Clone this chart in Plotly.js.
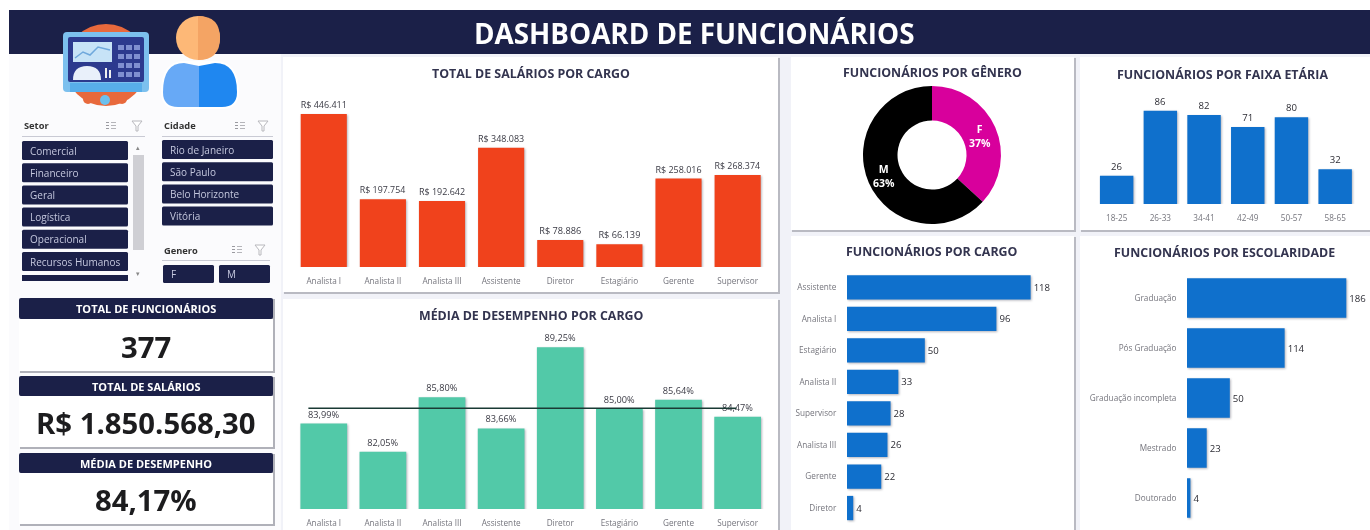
<!DOCTYPE html>
<html lang="pt-BR"><head><meta charset="utf-8">
<script src="https://cdn.plot.ly/plotly-3.0.1.min.js"></script>
<style>
html,body{margin:0;padding:0;background:#fff;overflow:hidden}
#chart{width:1370px;height:530px;filter:blur(0.7px)}
.barlayer .point path{filter:drop-shadow(1px 1px 1px rgba(40,40,60,.35))}
</style></head><body><div id="chart"></div>
<script>
const cargos=["Analista I","Analista II","Analista III","Assistente","Diretor","Estagiário","Gerente","Supervisor"];
const salarios=[446411,197754,192642,348083,78886,66139,258016,268374];
const desempenho=[83.99,82.05,85.80,83.66,89.25,85.00,85.64,84.47];
const linhaDesempenho=85.05;
const generos=["F","M"];
const generoValores=[139,238];
const faixas=["18-25","26-33","34-41","42-49","50-57","58-65"];
const faixaValores=[26,86,82,71,80,32];
const cargosOrd=["Assistente","Analista I","Estagiário","Analista II","Supervisor","Analista III","Gerente","Diretor"];
const cargosOrdValores=[118,96,50,33,28,26,22,4];
const escolaridade=["Graduação","Pós Graduação","Graduação incompleta","Mestrado","Doutorado"];
const escolaridadeValores=[186,114,50,23,4];
const setores=["Comercial","Financeiro","Geral","Logística","Operacional","Recursos Humanos"];
const cidades=["Rio de Janeiro","São Paulo","Belo Horizonte","Vitória"];
const kpis=[["TOTAL DE FUNCIONÁRIOS","377"],["TOTAL DE SALÁRIOS","R$ 1.850.568,30"],["MÉDIA DE DESEMPENHO","84,17%"]];

const W=1370,H=530,FONT='"Open Sans",sans-serif';
const NAVY='#1b2048',ORANGE='#f0421c',GREEN='#52c9a8',BLUE='#0f70cc',TITLE='#33344f';
const px=x=>x/W,py=y=>1-y/H;
const shapes=[],ann=[];
const rect=(x0,y0,x1,y1,fill,extra)=>shapes.push(Object.assign({type:'rect',xref:'paper',yref:'paper',x0:px(x0),x1:px(x1),y0:py(y0),y1:py(y1),fillcolor:fill,line:{width:0},layer:'below'},extra||{}));
const circle=(cx,cy,r,fill)=>shapes.push({type:'circle',xref:'paper',yref:'paper',x0:px(cx-r),x1:px(cx+r),y0:py(cy+r),y1:py(cy-r),fillcolor:fill,line:{width:0},layer:'below'});
const path=(pts,fill,close=true,line)=>{
  let d=pts.map(p=>{let s=p[0];for(let i=1;i<p.length;i+=2)s+=' '+px(p[i])+','+py(p[i+1]);return s}).join(' ')+(close?' Z':'');
  shapes.push({type:'path',xref:'paper',yref:'paper',path:d,fillcolor:fill,line:line||{width:0},layer:'below'});
};
const rrect=(x0,y0,x1,y1,r,fill)=>path([['M',x0+r,y0],['L',x1-r,y0],['Q',x1,y0,x1,y0+r],['L',x1,y1-r],['Q',x1,y1,x1-r,y1],['L',x0+r,y1],['Q',x0,y1,x0,y1-r],['L',x0,y0+r],['Q',x0,y0,x0+r,y0]],fill);
const text=(x,y,t,size,color,bold,anchor)=>ann.push({xref:'paper',yref:'paper',x:px(x),y:py(y),text:bold?'<b>'+t+'</b>':t,showarrow:false,xanchor:anchor||'center',yanchor:'middle',font:{family:FONT,size,color}});

// fundo e cabeçalho
rect(9,54,W,H,'#f1f2f8');
rect(9,54,281,H,'#fbfbfd');
rect(9,10,W,54,NAVY);
text(694,33,'DASHBOARD DE FUNCIONÁRIOS',27.8,'#ffffff',true);

// cartões
const card=(x0,y0,x1,y1)=>{rect(x0+1,y0+1,x1+2,y1+2,'#b9bac2');rect(x0,y0,x1,y1,'#ffffff');};
card(283,57,778,292);card(283,299,778,532);
card(791,57,1074,230);card(1080,57,1370,230);
card(791,236,1074,532);card(1080,236,1370,532);
text(531,74,'TOTAL DE SALÁRIOS POR CARGO',12.4,TITLE,true);
text(531,315,'MÉDIA DE DESEMPENHO POR CARGO',12.4,TITLE,true);
text(933,73,'FUNCIONÁRIOS POR GÊNERO',12.4,TITLE,true);
text(1222,75,'FUNCIONÁRIOS POR FAIXA ETÁRIA',12.4,TITLE,true);
text(932,251,'FUNCIONÁRIOS POR CARGO',12.4,TITLE,true);
text(1224,252,'FUNCIONÁRIOS POR ESCOLARIDADE',12.4,TITLE,true);

// ilustração: monitor
circle(106,65,41,'#e8693c');
rrect(63,32,149,92,4,'#7cc0ee');
rrect(68,37,144,82,2,'#2c3a8e');
rect(73,42,112,62,'#c7e3f7');
path([['M',75,58],['L',83,52],['L',90,55],['L',98,47],['L',110,50]],'rgba(0,0,0,0)',false,{color:'#6fa8dc',width:1.5});
path([['M',73,80],['Q',73,66,87,66],['Q',101,66,101,80]],'#e9f0fa');
for(let c=0;c<3;c++)for(let r=0;r<4;r++)rect(118+c*8,45+r*9,124+c*8,50+r*9,'#7f8fd0');
rect(105,68,107,78,'#f0f0f0');rect(109,70,111,78,'#f0f0f0');
rect(70,83,142,92,'#58aeea');
circle(88,99,5,'#e8693c');circle(122,99,5,'#e8693c');circle(105,100,5,'#6cc0ee');

// ilustração: pessoa
path([['M',162,92],['Q',162,62,184,62],['L',215,62],['Q',238,62,238,92],['Q',238,108,222,108],['L',178,108],['Q',162,108,162,92]],'#ffffff',true,{color:'#ffffff',width:2});
path([['M',163,92],['Q',163,63,184,63],['L',199,66],['L',199,107],['L',178,107],['Q',163,107,163,92]],'#67a9f6');
path([['M',199,66],['L',215,63],['Q',237,63,237,92],['Q',237,107,222,107],['L',199,107]],'#1f87f0');
circle(198,38,22,'#fdb877');
path([['M',198,16],['Q',220,16,220,38],['Q',220,60,198,60]],'#f4a464');

// filtros
const slicerHead=(x,xEnd,y,label,xi1,xi2)=>{
  text(x,y,label,9.3,'#333333',true,'left');
  rect(x,y+10,xEnd,y+11,'#c9cad4');
  for(let i=0;i<3;i++){rect(xi1,y-4+i*3,xi1+3,y-3+i*3,'#9a9aa0');rect(xi1+5,y-4+i*3,xi1+10,y-3+i*3,'#b5b5ba');}
  path([['M',xi2,y-5],['L',xi2+10,y-5],['L',xi2+6,y],['L',xi2+6,y+5],['L',xi2+4,y+5],['L',xi2+4,y]],'#ffffff',true,{color:'#b8b8bd',width:1});
};
const item=(x0,y0,x1,y1,t)=>{rrect(x0,y0,x1,y1,1.5,NAVY);text(x0+6,(y0+y1)/2,t,10,'#c4c7dd',false,'left');};
slicerHead(22,145,126,'Setor',106,132);
setores.forEach((s,i)=>item(22,141+i*22.2,128,160+i*22.2,s));
rect(22,275,128,281,NAVY);
rect(133,155,144,250,'#cfcfd4');
text(138,147,'▴',7,'#888',false);text(138,273,'▾',7,'#888',false);
slicerHead(162,273,126,'Cidade',235,258);
cidades.forEach((s,i)=>item(162,140+i*22.2,273,159+i*22.2,s));
slicerHead(162,270,250,'Genero',232,255);
item(163,265,214,283,generos[0]);item(219,265,270,283,generos[1]);

// indicadores
const kpiY=[[298,319,371,347],[376,396,447,423],[453,473,524,500]];
kpis.forEach((k,i)=>{const [a,b,c,m]=kpiY[i];
  rect(20,a+1,275,c+2,'#b0b1b9');
  rect(19,b,273,c,'#ffffff');
  rrect(19,a,273,b,2,NAVY);
  text(146,(a+b)/2,k[0],11,'#ffffff',true);
  text(146,m,k[1],29.3,'#1c1c1e',true);
});

// rótulos da rosca
const total=generoValores.reduce((a,b)=>a+b,0);
const rotulo=i=>'<b>'+generos[i]+'<br>'+Math.round(100*generoValores[i]/total)+'%</b>';
text(980,136,rotulo(0),10.5,'#ffffff',false);
text(884,176,rotulo(1),10.5,'#ffffff',false);

const lab={family:FONT,size:9.2,color:'#3a3a44'};
const labN={family:FONT,size:9.6,color:'#2c2c34'};
const tick={family:FONT,size:8.2,color:'#75757d'};
const data=[
 {type:'bar',x:cargos,y:salarios,xaxis:'x',yaxis:'y',marker:{color:ORANGE},texttemplate:'R$ %{y:,.0f}',textposition:'outside',textfont:lab,cliponaxis:false,width:0.78,hoverinfo:'x+y'},
 {type:'bar',x:cargos,y:desempenho,xaxis:'x2',yaxis:'y2',marker:{color:GREEN},texttemplate:'%{y:.2f}%',textposition:'outside',textfont:lab,cliponaxis:false,width:0.79,hoverinfo:'x+y'},
 {type:'pie',labels:generos,values:generoValores,sort:false,direction:'clockwise',rotation:0,hole:0.5,marker:{colors:['#d8009c','#000000'],line:{width:0}},textinfo:'none',showlegend:false,
  domain:{x:[px(863),px(1001)],y:[py(224),py(86)]}},
 {type:'bar',x:faixas,y:faixaValores,xaxis:'x3',yaxis:'y3',marker:{color:BLUE},text:faixaValores.map(String),textposition:'outside',textfont:labN,cliponaxis:false,width:0.765},
 {type:'bar',orientation:'h',y:cargosOrd,x:cargosOrdValores,xaxis:'x4',yaxis:'y4',marker:{color:BLUE},text:cargosOrdValores.map(String),textposition:'outside',textfont:labN,cliponaxis:false,width:0.77},
 {type:'bar',orientation:'h',y:escolaridade,x:escolaridadeValores,xaxis:'x5',yaxis:'y5',marker:{color:BLUE},text:escolaridadeValores.map(String),textposition:'outside',textfont:labN,cliponaxis:false,width:0.79}
];
const xCat=(l,r,anchor)=>({domain:[px(l),px(r)],anchor,type:'category',showgrid:false,zeroline:false,showline:false,ticks:'outside',ticklen:6,tickcolor:'rgba(0,0,0,0)',tickfont:tick,fixedrange:true,automargin:false,tickangle:0});
const yHid=(t,b,r0,r1,anchor)=>({domain:[py(b),py(t)],anchor,range:[r0,r1],visible:false,fixedrange:true});
const yCat=(t,b,anchor)=>({domain:[py(b),py(t)],anchor,type:'category',autorange:'reversed',showgrid:false,zeroline:false,showline:false,ticks:'outside',ticklen:8,tickcolor:'rgba(0,0,0,0)',tickfont:tick,fixedrange:true,automargin:false});
const xHid=(l,r,r0,r1,anchor)=>({domain:[px(l),px(r)],anchor,range:[r0,r1],visible:false,fixedrange:true});
const layout={width:W,height:H,margin:{l:0,r:0,t:0,b:0},paper_bgcolor:'#ffffff',plot_bgcolor:'rgba(0,0,0,0)',showlegend:false,separators:',.',font:{family:FONT},shapes,annotations:ann,
 xaxis:xCat(294.2,767.2,'y'),yaxis:yHid(90,267,0,516400,'x'),
 xaxis2:xCat(294.2,767.2,'y2'),yaxis2:yHid(335,509,78.1,90.1,'x2'),
 xaxis3:xCat(1094.8,1357,'y3'),yaxis3:yHid(95,204,0,100.5,'x3'),
 xaxis4:xHid(847,1070,0,143.3,'y4'),yaxis4:yCat(271.6,523.8,'x4'),
 xaxis5:xHid(1187,1366,0,209,'y5'),yaxis5:yCat(273,523,'x5')
};
shapes.push({type:'line',xref:'x2',yref:'y2',x0:-0.26,x1:6.98,y0:linhaDesempenho,y1:linhaDesempenho,line:{color:'#1a3a34',width:1.5},layer:'above'});
Plotly.newPlot('chart',data,layout,{displayModeBar:false,staticPlot:true});
</script></body></html>
